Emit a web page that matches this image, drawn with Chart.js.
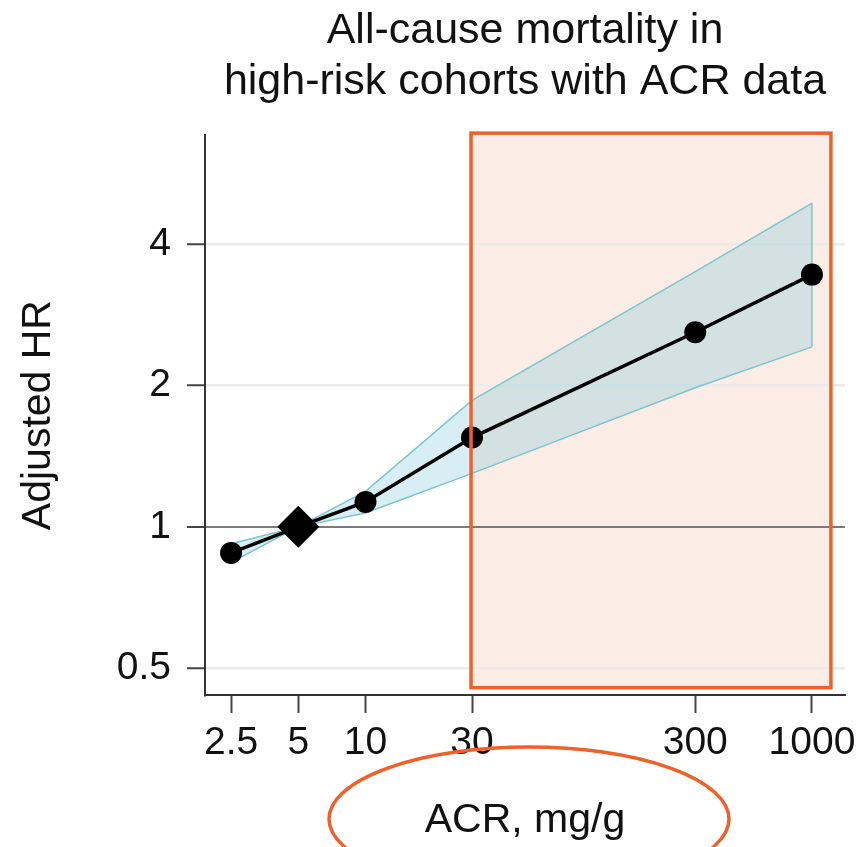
<!DOCTYPE html>
<html>
<head>
<meta charset="utf-8">
<script src="https://cdn.jsdelivr.net/npm/chart.js@4.4.1/dist/chart.umd.min.js"></script>
<style>
  html, body { margin: 0; padding: 0; background: #fff; }
  #wrap { width: 866px; height: 847px; position: relative; }
</style>
</head>
<body>
<div id="wrap"><canvas id="acrChart"></canvas></div>
<script>
// Datos
const acr = [2.5, 5, 10, 30, 300, 1000];
const hr = [0.88, 1.0, 1.13, 1.55, 2.6, 3.45];
const hrUpper = [0.92, 1.0, 1.19, 1.86, 3.5, 4.9];
const hrLower = [0.84, 1.0, 1.07, 1.3, 1.98, 2.42];
const refAcr = 5;

const xTicks = [2.5, 5, 10, 30, 300, 1000];
const yTicks = [0.5, 1, 2, 4];

// Zona resaltada (en unidades de datos)
const highlightAcr = [29.7, 1216];
const highlightHr = [0.454, 6.91];

const colors = {
  text: '#111111',
  axis: '#333333',
  grid: '#ebebeb',
  refLine: '#7a7a7a',
  band: 'rgba(120, 200, 220, 0.30)',
  bandEdge: '#80c4cc',
  orange: '#f0612a',
  pink: '#fbece6',
};

const FONT = '"Liberation Sans", Arial, Helvetica, sans-serif';

const pts = (ys) => acr.map((x, i) => ({ x, y: ys[i] }));

// Anotaciones: rectángulo y elipse naranjas
const highlightPlugin = {
  id: 'highlight',
  beforeDraw(chart) {
    const { x, y } = chart.scales;
    const ctx = chart.ctx;
    const l = x.getPixelForValue(highlightAcr[0]);
    const r = x.getPixelForValue(highlightAcr[1]);
    const t = y.getPixelForValue(highlightHr[1]);
    const b = y.getPixelForValue(highlightHr[0]);
    ctx.save();
    ctx.fillStyle = colors.pink;
    ctx.fillRect(l, t, r - l, b - t);
    ctx.restore();
  },
  afterDraw(chart) {
    const { x, y } = chart.scales;
    const ctx = chart.ctx;
    const l = x.getPixelForValue(highlightAcr[0]);
    const r = x.getPixelForValue(highlightAcr[1]);
    const t = y.getPixelForValue(highlightHr[1]);
    const b = y.getPixelForValue(highlightHr[0]);
    ctx.save();
    ctx.strokeStyle = colors.orange;
    ctx.lineWidth = 3.5;
    ctx.strokeRect(l, t, r - l, b - t);
    // elipse alrededor del título del eje X
    ctx.beginPath();
    ctx.ellipse((x.left + x.right) / 2 + 4, x.bottom - 28, 200, 72, 0, 0, Math.PI * 2);
    ctx.stroke();
    ctx.restore();
  }
};

new Chart(document.getElementById('acrChart'), {
  type: 'line',
  data: {
    datasets: [
      {
        label: 'Adjusted HR',
        data: pts(hr),
        borderColor: '#000',
        backgroundColor: '#000',
        borderWidth: 3.5,
        pointStyle: (c) => acr[c.dataIndex] === refAcr ? 'rectRot' : 'circle',
        pointRadius: (c) => acr[c.dataIndex] === refAcr ? 21 : 11,
        pointBorderWidth: 0,
        fill: false,
        tension: 0,
        order: 0,
        clip: false,
      },
      {
        label: 'Upper CI',
        data: pts(hrUpper),
        borderColor: colors.bandEdge,
        borderWidth: 1.5,
        backgroundColor: colors.band,
        pointRadius: 0,
        fill: '+1',
        tension: 0,
        order: 1,
      },
      {
        label: 'Lower CI',
        data: pts(hrLower),
        borderColor: colors.bandEdge,
        borderWidth: 1.5,
        pointRadius: 0,
        fill: false,
        tension: 0,
        order: 2,
      },
      {
        label: 'CI end',
        data: [
          { x: acr[acr.length - 1], y: hrUpper[hrUpper.length - 1] },
          { x: acr[acr.length - 1], y: hrLower[hrLower.length - 1] },
        ],
        borderColor: colors.bandEdge,
        borderWidth: 1.5,
        pointRadius: 0,
        fill: false,
        order: 3,
      },
    ]
  },
  options: {
    responsive: true,
    maintainAspectRatio: false,
    animation: false,
    layout: { padding: { left: 0, right: 21, top: 0, bottom: 0 } },
    plugins: {
      legend: { display: false },
      tooltip: { enabled: false },
      title: {
        display: true,
        text: ['All-cause mortality in', 'high-risk cohorts with ACR data'],
        color: colors.text,
        font: { family: FONT, size: 43, weight: 'normal', lineHeight: 1.2 },
        padding: { top: 5, bottom: 27 },
        fullSize: false,
      },
    },
    scales: {
      x: {
        type: 'logarithmic',
        min: 1.91,
        max: 1406,
        afterBuildTicks: (s) => { s.ticks = xTicks.map(v => ({ value: v })); },
        afterFit: (s) => { s.height = 152; },
        ticks: {
          autoSkip: false,
          maxRotation: 0,
          padding: 7,
          color: colors.text,
          font: { family: FONT, size: 39 },
          callback: (v) => String(v),
        },
        grid: {
          drawOnChartArea: false,
          drawTicks: true,
          tickLength: 18,
          tickColor: '#444',
          tickWidth: 2,
        },
        border: { display: true, color: colors.axis, width: 2 },
        title: {
          display: true,
          text: 'ACR, mg/g',
          color: colors.text,
          font: { family: FONT, size: 41, lineHeight: 1.2 },
          padding: { top: 0, bottom: 2 },
        },
      },
      y: {
        type: 'logarithmic',
        min: 0.438,
        max: 6.84,
        afterBuildTicks: (s) => { s.ticks = yTicks.map(v => ({ value: v })); },
        afterFit: (s) => { s.width = 205; },
        ticks: {
          autoSkip: false,
          padding: 16,
          color: colors.text,
          font: { family: FONT, size: 39 },
          callback: (v) => String(v),
        },
        grid: {
          color: (c) => c.tick && c.tick.value === 1 ? colors.refLine : colors.grid,
          lineWidth: (c) => c.tick && c.tick.value === 1 ? 2 : 2.5,
          tickLength: 18,
          tickColor: '#444',
          tickWidth: 2,
        },
        border: { display: true, color: colors.axis, width: 2 },
        title: {
          display: true,
          text: 'Adjusted HR',
          color: colors.text,
          font: { family: FONT, size: 41, lineHeight: 1.2 },
          padding: { top: 14, bottom: 0 },
        },
      },
    },
  },
  plugins: [highlightPlugin],
});
</script>
</body>
</html>
